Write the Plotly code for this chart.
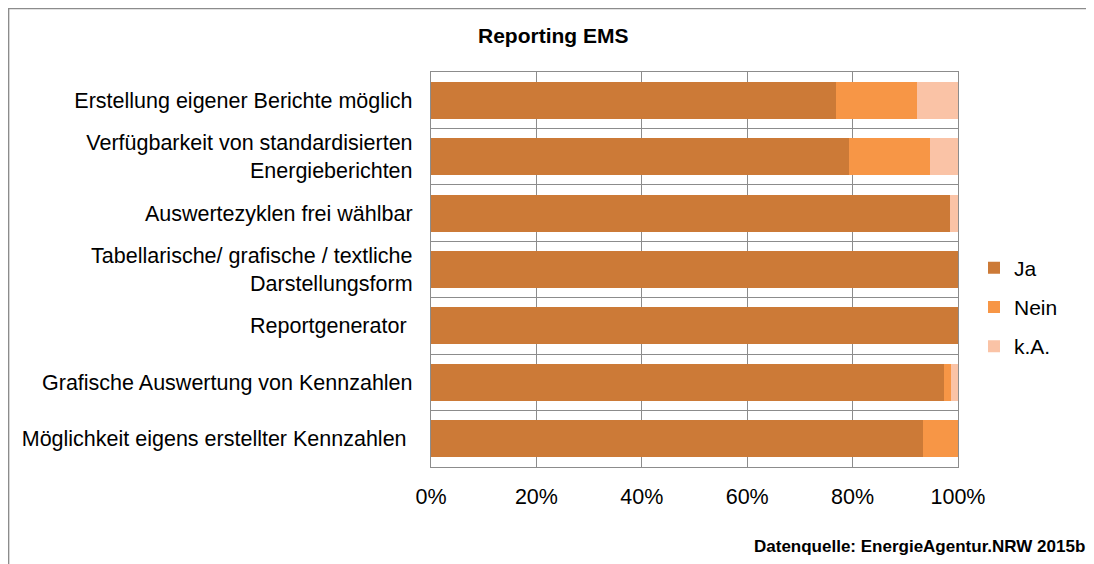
import plotly.graph_objects as go

categories = [
    "Erstellung eigener Berichte möglich",
    "Verfügbarkeit von standardisierten<br>Energieberichten",
    "Auswertezyklen frei wählbar",
    "Tabellarische/ grafische / textliche<br>Darstellungsform",
    "Reportgenerator ",
    "Grafische Auswertung von Kennzahlen",
    "Möglichkeit eigens erstellter Kennzahlen ",
]
ja = [76.9, 79.3, 98.5, 100.0, 100.0, 97.3, 93.4]
nein = [15.4, 15.4, 0.0, 0.0, 0.0, 1.3, 6.6]
ka = [7.7, 5.3, 1.5, 0.0, 0.0, 1.4, 0.0]

series = [("Ja", ja, "#CC7A37"), ("Nein", nein, "#F79646"), ("k.A.", ka, "#FAC3A6")]

fig = go.Figure()
for name, vals, col in series:
    fig.add_trace(go.Bar(
        y=categories, x=vals, name=name, orientation="h",
        marker=dict(color=col, line=dict(width=0)),
        legendgroup=name,
    ))

font_main = "Liberation Sans, Arial, sans-serif"
OFF = 8  # page body margin
W, H = 1094 - OFF, 564 - OFF
L, R, T, B = 431 - OFF, 958 - OFF, 72 - OFF, 467 - OFF


def px(x):
    return (x - OFF - L) / (R - L)


def py(y):
    return (B - (y - OFF)) / (B - T)


fig.update_layout(
    width=W, height=H,
    barmode="stack", bargap=0.345,
    margin=dict(l=L, r=W - R, t=T, b=H - B, autoexpand=False),
    paper_bgcolor="white", plot_bgcolor="white",
    font=dict(family=font_main, size=21, color="#000000"),
    showlegend=True,
    legend=dict(x=px(974), y=py(307), xanchor="left", yanchor="middle",
                font=dict(size=21), traceorder="grouped", tracegroupgap=9,
                itemwidth=30, bgcolor="rgba(0,0,0,0)"),
    xaxis=dict(range=[0, 100], tickvals=[0, 20, 40, 60, 80, 100],
               ticktext=["0%", "20%", "40%", "60%", "80%", "100%"],
               showgrid=True, gridcolor="#8C8C8C", gridwidth=1.3,
               showline=True, linecolor="#8C8C8C", linewidth=1.3, mirror=True,
               ticks="", ticklabelstandoff=10, zeroline=False, fixedrange=True,
               tickfont=dict(size=21.5)),
    yaxis=dict(type="category", autorange="reversed", tickson="boundaries",
               showgrid=True, gridcolor="#8C8C8C", gridwidth=1.3,
               showline=True, linecolor="#8C8C8C", linewidth=1.3, mirror=True,
               ticks="", ticklabelstandoff=13, tickfont=dict(size=21.5)),
    shapes=[dict(type="rect", xref="paper", yref="paper",
                 x0=px(8.6), x1=px(1200), y0=py(8.6), y1=py(700),
                 line=dict(color="#8C8C8C", width=1.5), fillcolor="rgba(0,0,0,0)",
                 layer="below")],
    annotations=[
        dict(text="<b>Reporting EMS</b>", xref="paper", yref="paper",
             x=px(553), y=py(36), xanchor="center", yanchor="middle",
             showarrow=False, font=dict(size=21)),
        dict(text="<b>Datenquelle: EnergieAgentur.NRW 2015b</b>", xref="paper", yref="paper",
             x=px(1087), y=py(546), xanchor="right", yanchor="middle",
             showarrow=False, font=dict(size=17)),
    ],
)

fig.write_html("out.html")
